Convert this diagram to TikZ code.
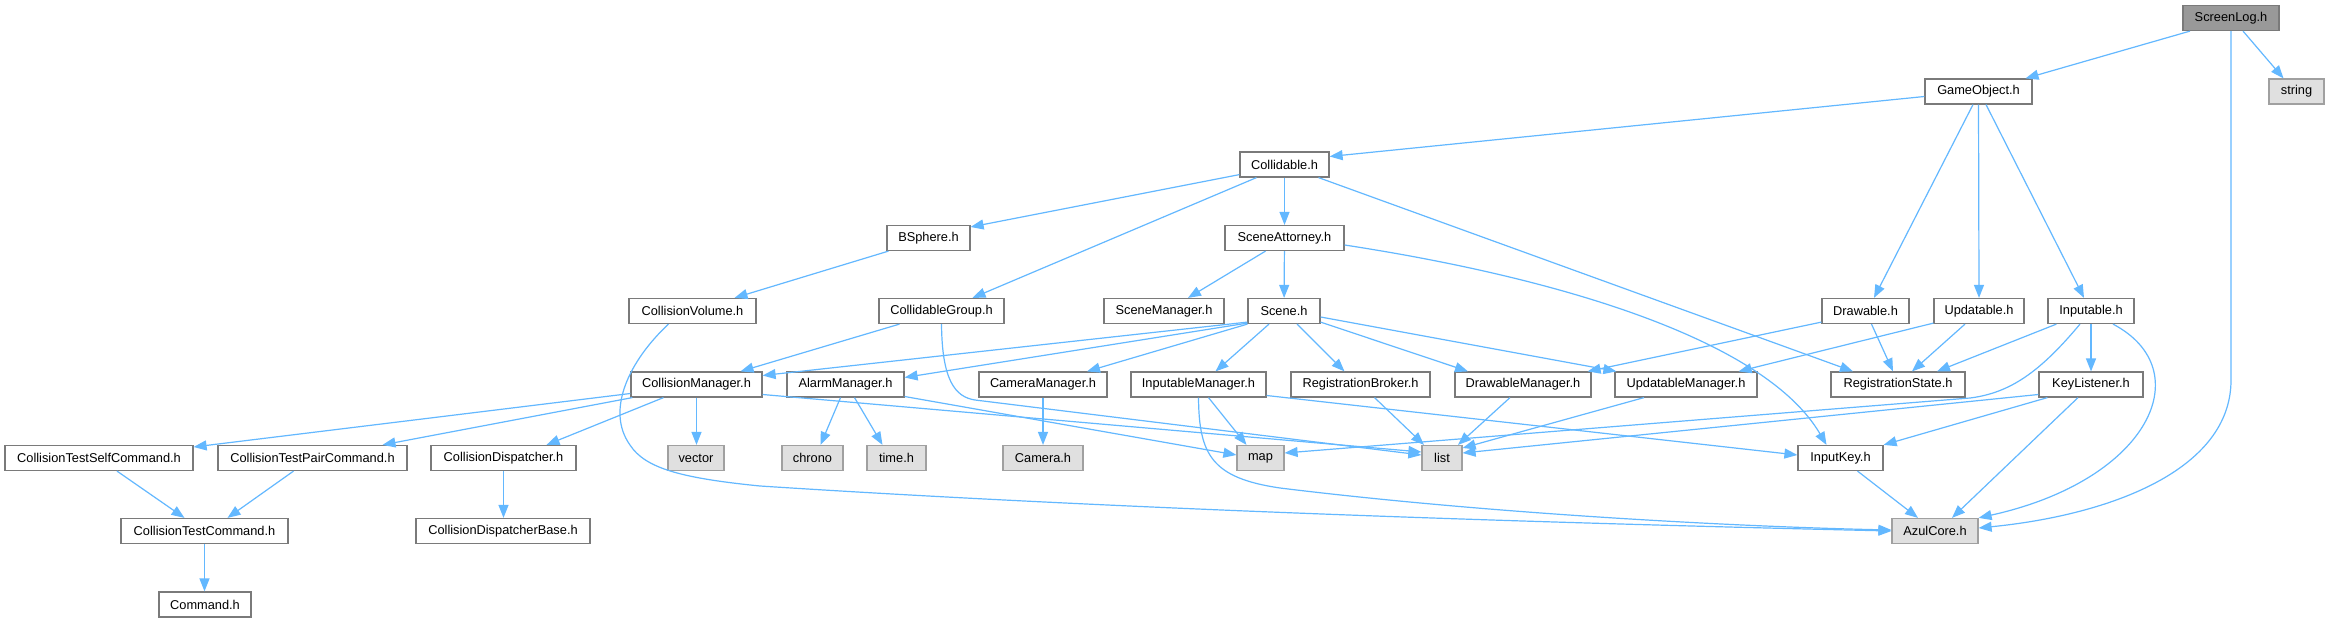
\documentclass[tikz,border=0pt]{standalone}
\usepackage{fontspec}
\setmainfont{Liberation Sans}
\usetikzlibrary{arrows.meta,calc}
\definecolor{edgeblue}{HTML}{63B8FF}
\definecolor{boxgray}{HTML}{7A7A7A}
\definecolor{extfill}{HTML}{E0E0E0}
\definecolor{extdraw}{HTML}{A0A0A0}
\definecolor{rootfill}{HTML}{999999}
\begin{document}
\begin{tikzpicture}[x=1pt,y=-1pt,
  hdr/.style={draw=boxgray, line width=1.2pt, fill=white, minimum height=25pt, inner sep=0pt, font=\fontsize{12.8}{14}\selectfont},
  ext/.style={hdr, draw=extdraw, fill=extfill},
  root/.style={hdr, draw=boxgray, fill=rootfill},
  conn/.style={draw=edgeblue, line width=1.2pt, -{Triangle[length=13pt,width=10pt]}}]
\useasboundingbox[fill=white] (0,0) rectangle (2329,623);
% row 0
\node[root, minimum width=96pt] (ScreenLog) at (2231,18) {ScreenLog.h};
% row 1
\node[hdr, minimum width=107pt] (GameObject) at (1978.5,91.5) {GameObject.h};
\node[ext, minimum width=55pt] (string) at (2296.5,91.5) {string};
% row 2
\node[hdr, minimum width=89pt] (Collidable) at (1284.5,164.5) {Collidable.h};
% row 3
\node[hdr, minimum width=83pt] (BSphere) at (928.5,238) {BSphere.h};
\node[hdr, minimum width=119pt] (SceneAttorney) at (1284.5,238) {SceneAttorney.h};
% row 4
\node[hdr, minimum width=127pt] (CollisionVolume) at (692.5,311) {CollisionVolume.h};
\node[hdr, minimum width=125pt] (CollidableGroup) at (941.5,311) {CollidableGroup.h};
\node[hdr, minimum width=120pt] (SceneManager) at (1164,311) {SceneManager.h};
\node[hdr, minimum width=72pt] (Scene) at (1284,311) {Scene.h};
\node[hdr, minimum width=87pt] (Drawable) at (1865.5,311) {Drawable.h};
\node[hdr, minimum width=90pt] (Updatable) at (1979,311) {Updatable.h};
\node[hdr, minimum width=86pt] (Inputable) at (2091,311) {Inputable.h};
% row 5
\node[hdr, minimum width=131pt] (CollisionManager) at (696.5,384.5) {CollisionManager.h};
\node[hdr, minimum width=117pt] (AlarmManager) at (845.5,384.5) {AlarmManager.h};
\node[hdr, minimum width=128pt] (CameraManager) at (1043,384.5) {CameraManager.h};
\node[hdr, minimum width=135pt] (InputableManager) at (1198.5,384.5) {InputableManager.h};
\node[hdr, minimum width=139pt] (RegistrationBroker) at (1360.5,384.5) {RegistrationBroker.h};
\node[hdr, minimum width=136pt] (DrawableManager) at (1523,384.5) {DrawableManager.h};
\node[hdr, minimum width=142pt] (UpdatableManager) at (1686,384.5) {UpdatableManager.h};
\node[hdr, minimum width=134pt] (RegistrationState) at (1898,384.5) {RegistrationState.h};
\node[hdr, minimum width=104pt] (KeyListener) at (2091,384.5) {KeyListener.h};
% row 6
\node[hdr, minimum width=188pt] (CTSelf) at (99,458) {CollisionTestSelfCommand.h};
\node[hdr, minimum width=189pt] (CTPair) at (312.5,458) {CollisionTestPairCommand.h};
\node[hdr, minimum width=145pt] (CDispatcher) at (503.5,458) {CollisionDispatcher.h};
\node[ext, minimum width=56pt] (vector) at (696,458) {vector};
\node[ext, minimum width=61pt] (chrono) at (812.5,458) {chrono};
\node[ext, minimum width=59pt] (timeh) at (896.5,458) {time.h};
\node[ext, minimum width=80pt] (Camera) at (1043,458) {Camera.h};
\node[ext, minimum width=47pt] (map) at (1260.5,458) {map};
\node[ext, minimum width=40pt] (list) at (1442,458) {list};
\node[hdr, minimum width=85pt] (InputKey) at (1840.5,458) {InputKey.h};
% row 7
\node[hdr, minimum width=167pt] (CTCommand) at (204.5,531) {CollisionTestCommand.h};
\node[hdr, minimum width=174pt] (CDBase) at (503,531) {CollisionDispatcherBase.h};
\node[ext, minimum width=86pt] (AzulCore) at (1935,531) {AzulCore.h};
% row 8
\node[hdr, minimum width=92pt] (Command) at (205,604.5) {Command.h};

% edges
\draw[conn] ($(ScreenLog.south)+(-41,0)$) -- ($(GameObject.north)+(47,0)$);
\draw[conn] ($(ScreenLog.south)+(12,0)$) -- ($(string.north)+(-13,0)$);
\draw[conn] (ScreenLog.south) -- ($(ScreenLog.south)+(0,349)$) .. controls (2231,470) and (2110,515) .. ($(AzulCore.east)+(0,-3)$);
\draw[conn] ($(GameObject.west)+(0,5)$) -- ($(Collidable.east)+(0,-8)$);
\draw[conn] ($(GameObject.south)+(-5.5,0)$) -- ($(Drawable.north)+(8.5,0)$);
\draw[conn] (GameObject.south) -- (Updatable.north);
\draw[conn] ($(GameObject.south)+(7.5,0)$) -- ($(Inputable.north)+(-7,0)$);
\draw[conn] ($(Collidable.south west)+(0,-3)$) -- ($(BSphere.east)+(0,-11)$);
\draw[conn] ($(Collidable.south)+(-28,0)$) -- ($(CollidableGroup.north)+(31,0)$);
\draw[conn] (Collidable) -- (SceneAttorney);
\draw[conn] ($(Collidable.south)+(34,0)$) -- ($(RegistrationState.north)+(-45,0)$);
\draw[conn] ($(BSphere.south)+(-40,0)$) -- ($(CollisionVolume.north)+(42,0)$);
\draw[conn] ($(CollisionVolume.south)+(-24,0)$) .. controls (630,360) and (605,410) .. (630,445) .. controls (645,468) and (680,478) .. (760,486) .. controls (1100,508) and (1500,522) .. (AzulCore.west);
\draw[conn] ($(CollidableGroup.south)+(-42,0)$) -- ($(CollisionManager.north)+(44,0)$);
\draw[conn] (CollidableGroup.south) .. controls (942,380) and (955,397) .. (975,400) -- ($(list.west)+(0,-3)$);
\draw[conn] ($(SceneAttorney.south)+(-19,0)$) -- ($(SceneManager.north)+(24,0)$);
\draw[conn] (SceneAttorney) -- (Scene);
\draw[conn] ($(SceneAttorney.east)+(0,7)$) .. controls (1560,278) and (1765,340) .. ($(InputKey.north)+(-14,0)$);
\draw[conn] ($(Scene.south west)+(0,-2)$) -- ($(CollisionManager.east)+(0,-9)$);
\draw[conn] ($(Scene.south west)+(0,-1)$) -- ($(AlarmManager.east)+(0,-7)$);
\draw[conn] (Scene.south west) -- ($(CameraManager.north)+(44,0)$);
\draw[conn] ($(Scene.south)+(-15,0)$) -- ($(InputableManager.north)+(17,0)$);
\draw[conn] ($(Scene.south)+(13,0)$) -- ($(RegistrationBroker.north)+(-16,0)$);
\draw[conn] ($(Scene.south east)+(0,-2)$) -- ($(DrawableManager.north)+(-55,0)$);
\draw[conn] ($(Scene.east)+(0,6)$) -- ($(UpdatableManager.north west)+(2,0)$);
\draw[conn] ($(Drawable.south west)+(0,-2)$) -- ($(DrawableManager.north east)+(-4,0)$);
\draw[conn] ($(Drawable.south)+(6,0)$) -- ($(RegistrationState.north)+(-5,0)$);
\draw[conn] ($(Updatable.south west)+(0,-1)$) -- ($(UpdatableManager.north east)+(-19,0)$);
\draw[conn] ($(Updatable.south)+(-14,0)$) -- ($(RegistrationState.north)+(14,0)$);
\draw[conn] ($(Inputable.south west)+(9,0)$) -- ($(RegistrationState.north)+(39,0)$);
\draw[conn] (Inputable) -- (KeyListener);
\draw[conn] ($(Inputable.south)+(22,0)$) .. controls (2200,370) and (2150,480) .. (AzulCore.north east);
\draw[conn] ($(Inputable.south)+(-11,0)$) .. controls (2040,372) and (2010,393) .. (1970,398) -- ($(map.east)+(0,-5)$);
\draw[conn] ($(KeyListener.west)+(0,10)$) -- ($(list.east)+(0,-5)$);
\draw[conn] ($(KeyListener.south west)+(9,0)$) -- (InputKey.north east);
\draw[conn] ($(KeyListener.south)+(-13,0)$) -- ($(AzulCore.north)+(17,0)$);
\draw[conn] ($(CollisionManager.west)+(0,9)$) -- ($(CTSelf.east)+(0,-11)$);
\draw[conn] ($(CollisionManager.south west)+(2,0)$) -- ($(CTPair.north)+(70,0)$);
\draw[conn] ($(CollisionManager.south)+(-33,0)$) -- ($(CDispatcher.north)+(43,0)$);
\draw[conn] (CollisionManager.south) -- (CollisionManager.south |- vector.north);
\draw[conn] ($(CollisionManager.east)+(0,10)$) -- ($(list.west)+(0,-6)$);
\draw[conn] ($(AlarmManager.south)+(-5,0)$) -- ($(chrono.north)+(8,0)$);
\draw[conn] ($(AlarmManager.south)+(9,0)$) -- ($(timeh.north)+(-14,0)$);
\draw[conn] ($(AlarmManager.east)+(0,12)$) -- ($(map.west)+(0,-3)$);
\draw[conn] (CameraManager) -- (Camera);
\draw[conn] ($(InputableManager.south)+(10,0)$) -- ($(map.north)+(-14,0)$);
\draw[conn] ($(InputableManager.east)+(0,11)$) -- ($(InputKey.west)+(0,-3)$);
\draw[conn] (InputableManager.south) .. controls (1199,455) and (1212,478) .. (1280,488) .. controls (1500,515) and (1750,527) .. ($(AzulCore.west)+(0,-1)$);
\draw[conn] ($(RegistrationBroker.south)+(14,0)$) -- ($(list.north)+(-18,0)$);
\draw[conn] ($(DrawableManager.south)+(-13,0)$) -- ($(list.north)+(16,0)$);
\draw[conn] ($(UpdatableManager.south)+(-42,0)$) -- ($(list.east)+(0,-10)$);
\draw[conn] ($(InputKey.south)+(17,0)$) -- ($(AzulCore.north)+(-17,0)$);
\draw[conn] ($(CTSelf.south)+(18,0)$) -- ($(CTCommand.north)+(-20,0)$);
\draw[conn] ($(CTPair.south)+(-19,0)$) -- ($(CTCommand.north)+(23,0)$);
\draw[conn] (CDispatcher.south) -- (CDispatcher.south |- CDBase.north);
\draw[conn] (CTCommand.south) -- (CTCommand.south |- Command.north);
\end{tikzpicture}
\end{document}
